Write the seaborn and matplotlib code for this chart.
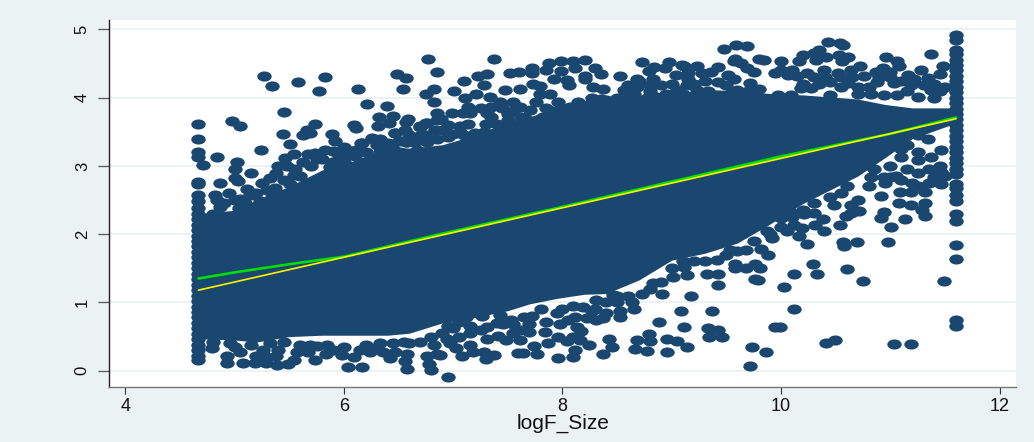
import matplotlib
matplotlib.use("Agg")
import matplotlib.pyplot as plt
import numpy as np
import pandas as pd
import seaborn as sns
from matplotlib.path import Path
from matplotlib.transforms import Affine2D

# points left of x=7, upper side
upper_left_x = [4.71,4.84,4.98,5.05,5.27,5.34,5.58,5.83,5.77,6.13,6.21,6.39,6.49,6.57,6.54,6.77,6.85,6.82,6.75,6.82,6.85,
    5.45,5.44,5.51,5.24,5.02,5.00,5.15,5.00,5.03,4.87,4.82,4.95,5.11,5.32,5.38,5.40,5.48,5.46,5.54,5.66,5.74,5.69,5.63,
    5.89,5.92,6.09,6.11,6.00,6.17,6.11,6.26,6.33,6.32,6.31,6.45,6.41,6.59,6.57,6.75,6.70,6.85,6.47,6.56,6.40,6.58,6.34,
    5.83,5.90,5.74,5.67,6.03,5.63,5.54,5.51,5.37,5.34,5.23,5.05,4.84,4.87,5.04,5.14,5.87,5.99,
    6.89,6.76,6.70,6.83,6.91,6.76,6.57,6.47,6.71,6.03,6.16,6.40,6.27,6.33,6.51,6.67]
upper_left_y = [3.01,3.13,3.66,3.58,4.31,4.17,4.23,4.30,4.10,4.13,3.91,3.88,4.34,4.29,4.13,4.56,4.38,4.13,4.06,3.93,3.78,
    3.79,3.46,3.32,3.24,3.06,2.96,2.89,2.83,2.78,2.75,2.57,2.60,2.66,2.82,2.90,3.00,3.00,3.12,3.18,3.53,3.62,3.48,3.45,
    3.47,3.36,3.60,3.56,3.27,3.34,3.24,3.41,3.40,3.71,3.58,3.73,3.63,3.69,3.64,3.63,3.58,3.67,3.48,3.52,3.32,3.35,3.21,
    3.23,3.22,3.19,3.17,3.16,3.06,2.87,2.74,2.67,2.55,2.48,2.51,2.50,2.40,2.39,2.57,2.99,2.94,
    3.68,3.63,3.57,3.53,3.53,3.35,3.35,3.48,3.45,3.23,3.33,3.33,3.40,3.21,3.21,3.23]

# points from 7 to 9.2, upper side
upper_mid_x = [7.37,7.52,7.60,7.72,7.88,7.99,8.10,8.21,7.72,7.85,7.99,8.11,8.30,8.35,8.21,8.21,7.92,8.04,8.06,8.73,8.84,
    8.97,9.09,8.94,8.79,8.53,8.68,9.04,8.83,8.90,8.68,8.56,8.28,8.37,9.05,7.61,7.73,7.79,7.47,7.28,7.31,7.23,7.10,7.01,
    7.21,7.11,7.34,7.79,7.89,7.96,7.43,7.55,7.14,6.99,7.09,7.15,7.50,7.31,7.61,7.76,8.14,8.27,8.07,8.59,8.77,8.86,9.01,
    9.14,9.15,8.40,7.06,7.06,7.14,7.40,7.66,7.82,7.72,7.28,7.21]
upper_mid_y = [4.56,4.36,4.38,4.44,4.51,4.54,4.53,4.55,4.36,4.40,4.39,4.44,4.43,4.34,4.32,4.28,4.27,4.26,4.18,4.52,4.45,
    4.52,4.48,4.43,4.39,4.32,4.28,4.33,4.28,4.18,4.15,4.11,4.15,4.12,4.11,4.13,4.20,4.17,4.11,4.18,4.34,4.32,4.25,4.10,
    4.06,3.99,4.01,4.05,4.05,3.93,3.94,3.94,3.87,3.77,3.77,3.78,3.76,3.77,3.87,3.94,3.93,3.99,3.86,3.98,3.99,4.01,3.92,
    4.18,4.36,3.96,3.58,3.50,3.62,3.62,3.70,3.72,3.53,3.50,3.33]

# points past 9.1, upper side
upper_right_x = [9.48,9.59,9.69,10.43,10.54,10.57,9.58,9.57,9.63,9.80,9.84,10.00,10.20,10.16,10.35,10.30,10.41,10.32,10.53,
    10.61,10.56,10.72,10.96,11.06,11.08,11.37,11.48,11.28,11.45,11.16,11.34,11.22,10.93,11.00,10.87,9.23,9.42,9.11,9.36,
    9.28,9.51,9.69,9.75,9.57,9.42,9.23,9.33,9.60,9.72,9.94,10.00,10.10,10.15,10.06,10.24,
    10.39,10.52,10.64,10.76,10.45,10.27,10.61,10.88,11.03,11.19,11.37,11.31,10.09,10.18,9.97,10.45,10.70,10.82,10.94,
    11.40,11.06,11.25]
upper_right_y = [4.71,4.77,4.76,4.81,4.80,4.77,4.57,4.53,4.50,4.57,4.55,4.53,4.62,4.53,4.70,4.65,4.60,4.55,4.62,
    4.60,4.53,4.46,4.59,4.53,4.46,4.64,4.47,4.40,4.35,4.33,4.29,4.28,4.44,4.37,4.38,4.46,4.45,4.47,4.38,
    4.36,4.33,4.43,4.38,4.28,4.23,4.11,4.09,4.11,4.21,4.36,4.40,4.40,4.31,4.33,4.36,
    4.40,4.36,4.40,4.31,4.23,4.14,4.21,4.23,4.21,4.18,4.11,4.18,4.04,4.14,4.04,4.04,4.06,4.06,4.04,
    3.99,4.04,4.01]

# crowded strip just over the solid part
upper_strip_x = [4.80,4.90,5.00,5.10,5.20,5.30,5.25,5.45,5.55,5.60,5.70,5.80,5.90,6.00,6.10,5.95,5.75,6.20,6.30,6.45,6.50,
    6.60,6.65,6.75,6.85,6.95,6.95,7.00,7.10,7.20,7.30,7.35,7.25,7.35,7.45,7.50,7.55,7.62,7.70,7.85,7.90,8.00,8.15,8.25,
    8.35,8.45,8.50,8.65,8.70,8.80,8.95,9.05,9.10,9.00,8.80,8.60,8.70,9.20,9.30,9.15,9.50,9.55,9.70,9.80,
    10.20,10.30,10.40,10.55,10.65,10.35,10.55,10.70,10.80,10.90,11.00,11.10,11.15,11.45,11.40,11.50]
upper_strip_y = [2.30,2.45,2.50,2.45,2.60,2.65,2.75,2.80,2.95,2.85,3.00,3.10,3.05,3.05,3.15,3.17,3.10,3.20,3.30,3.25,3.37,
    3.45,3.35,3.45,3.40,3.42,3.60,3.47,3.45,3.48,3.62,3.72,3.85,3.87,3.85,3.67,3.80,3.72,3.82,3.85,3.80,3.85,3.85,3.90,
    3.98,3.95,4.00,4.05,3.97,4.10,4.05,4.05,4.05,4.20,4.18,4.18,4.25,4.20,4.25,4.28,4.18,4.08,4.10,4.12,
    4.20,4.30,4.30,4.30,4.30,4.20,4.15,4.15,4.15,4.30,4.30,4.25,4.10,4.10,4.20,4.15]

# points left of x=7, lower side
lower_left_x = [4.79,4.96,4.93,4.93,5.08,5.19,5.29,5.39,5.49,5.54,5.38,5.05,5.26,5.32,5.57,5.67,5.74,5.84,5.69,5.98,6.09,
    6.04,6.17,6.24,6.15,6.36,6.42,6.47,6.58,6.56,6.58,6.78,6.80,6.76,6.85,6.60,6.82,6.33,6.88,6.95,6.97,6.94]
lower_left_y = [0.33,0.40,0.21,0.12,0.11,0.12,0.12,0.08,0.10,0.16,0.21,0.28,0.30,0.40,0.28,0.28,0.15,0.25,0.38,0.23,0.20,
    0.05,0.06,0.28,0.30,0.28,0.18,0.28,0.24,0.14,0.02,0.10,0.01,0.22,0.25,0.40,0.38,0.40,0.23,-0.09,0.40,0.47]

# points from 7 to 9.9, lower side
lower_mid_x = [7.08,7.30,7.37,7.18,7.28,7.15,7.31,7.03,7.00,7.15,7.31,7.41,7.48,7.59,7.64,7.77,7.96,8.10,7.74,7.87,7.96,
    8.04,8.11,8.24,8.16,7.61,7.69,7.61,7.55,7.84,8.10,8.13,8.17,8.43,8.45,8.37,8.68,8.79,8.80,8.66,8.77,8.96,8.96,9.05,
    9.14,9.11,8.88,9.33,9.42,9.34,9.46,9.08,9.37,9.73,9.86,9.72,9.94,8.53,8.53,8.31,8.37,8.22,8.27,8.19,7.98,8.11,7.95,
    7.72,7.69,7.53,7.46,7.43,7.26,7.12,6.97,8.64,8.65,8.40,8.91,9.18,8.73,9.01,9.14,9.32,9.42,9.42,9.76,9.79,10.03,
    9.58,9.58,9.68,9.76,9.81,9.41,9.82,9.88,9.53,9.68,9.11,8.83,8.46,8.31]
lower_mid_y = [0.22,0.17,0.23,0.28,0.28,0.38,0.47,0.33,0.62,0.55,0.64,0.51,0.45,0.26,0.26,0.25,0.18,0.20,0.36,0.40,0.49,
    0.43,0.31,0.38,0.45,0.45,0.57,0.60,0.55,0.57,0.50,0.64,0.58,0.47,0.35,0.25,0.45,0.54,0.44,0.32,0.29,0.27,0.47,0.44,
    0.35,0.64,0.71,0.62,0.60,0.50,0.50,0.87,0.88,0.35,0.27,0.07,0.64,0.79,0.87,0.74,0.77,0.77,0.87,0.94,0.69,0.78,0.84,
    0.80,0.69,0.75,0.69,0.82,0.80,0.79,0.89,1.00,0.91,1.00,1.13,1.10,1.13,1.38,1.40,1.42,1.41,1.25,1.35,1.33,1.23,
    1.57,1.50,1.50,1.56,1.51,1.62,1.79,1.69,1.77,1.77,1.52,1.28,1.11,1.04]

# points past 9.9, lower side
lower_right_x = [10.12,10.12,9.99,10.41,10.49,11.03,11.19,11.49,10.75,10.60,10.33,10.29,10.24,10.58,10.57,10.69,10.98,11.01,
    11.13,10.91,10.94,11.32,11.29,10.54,10.39,10.16,10.05,10.12,10.19,9.92,9.87,10.31,10.38,10.21,10.10,10.30,10.59,10.64,
    10.71,10.00,11.32,11.08,11.19,11.32,10.91,10.70,10.64,10.48,11.09,11.19,11.46,11.40,11.46,11.25,11.10,11.25,11.00,
    10.94,10.82,11.46,11.37,11.25,11.10,11.25,11.34]
lower_right_y = [1.41,0.91,0.64,0.40,0.45,0.39,0.39,1.31,1.31,1.49,1.41,1.56,1.85,1.82,1.89,1.89,1.89,2.11,
    2.22,2.24,2.32,2.26,2.35,2.13,2.05,1.97,2.04,2.13,2.09,1.95,2.04,2.13,2.22,2.30,2.31,2.31,2.27,2.31,
    2.34,2.23,2.62,2.45,2.43,2.45,2.56,2.50,2.43,2.43,2.62,2.62,2.74,2.84,2.91,2.89,2.79,2.70,2.84,
    2.84,2.84,3.23,3.13,3.08,3.13,3.45,3.40]

# crowded strip just under the solid part
lower_strip_x = [4.80,5.00,5.15,5.20,5.30,5.40,5.45,5.60,5.75,5.90,5.85,6.00,6.20,6.30,6.45,6.55,6.70,6.90,6.95,7.05,6.80,
    7.15,7.05,7.25,7.40,7.55,7.65,7.85,7.80,8.00,8.10,8.05,8.30,8.40,8.50,8.60,8.50,8.80,8.90,9.00,9.10,9.20,9.30,9.50,
    9.60,9.75,9.90,10.00,10.10,10.20,10.30,10.45,10.55,10.60,10.80,10.95,11.05,11.15,11.35,11.45,11.20,11.35,10.85,11.00,
    11.50,11.25,11.15,11.10]
lower_strip_y = [0.42,0.35,0.38,0.22,0.20,0.30,0.42,0.38,0.36,0.30,0.38,0.35,0.38,0.33,0.40,0.42,0.42,0.55,0.65,0.72,0.50,
    0.65,0.50,0.60,0.70,0.68,0.78,0.72,0.90,0.90,0.95,0.75,0.90,0.85,1.00,1.10,1.10,1.20,1.30,1.50,1.60,1.60,1.60,1.70,
    1.75,1.90,2.00,2.10,2.25,2.35,2.45,2.55,2.60,2.70,2.70,2.75,2.85,2.95,2.95,3.00,2.75,2.75,2.95,3.00,
    2.85,3.20,3.30,3.25]

# the two stacked columns at the censoring limits
left_col_x = 4.67
left_col_y = [3.61,3.39,3.20,3.13,2.77,2.73,2.58,2.48,2.38,2.30,2.22,2.14,2.06,1.98,1.90,1.82,1.74,1.66,1.58,1.50,1.42,
    1.34,1.26,1.18,1.10,1.02,0.94,0.86,0.78,0.70,0.62,0.54,0.47,0.38,0.30,0.22,0.15]
right_col_x = 11.6
right_col_y = [4.92,4.84,4.70,4.64,4.55,4.48,4.40,4.32,4.24,4.16,4.08,4.00,3.92,3.84,3.76,3.68,3.60,3.52,3.44,3.36,3.28,
    3.20,3.12,3.04,2.96,2.88,2.74,2.67,2.57,2.48,2.29,2.20,1.84,1.64,0.74,0.65]

# where the cloud is solid, outline of the overlapped markers
core_x = [4.67,5.0,5.2,5.5,5.8,6.1,6.4,6.6,6.9,7.2,7.5,7.7,7.95,8.2,8.4,8.7,9.0,9.3,9.6,9.9,10.2,10.7,10.95,11.2,11.55]
core_top = [2.30,2.35,2.50,2.70,2.94,3.08,3.28,3.26,3.31,3.45,3.65,3.72,3.85,3.92,3.97,4.02,4.05,4.12,4.10,4.06,4.04,3.98,3.90,3.85,3.85]
core_bot = [0.47,0.45,0.42,0.50,0.52,0.52,0.52,0.55,0.70,0.78,0.88,0.98,1.06,1.12,1.13,1.33,1.62,1.72,1.87,2.15,2.45,2.85,3.12,3.40,3.60]

# fitted lines
green_x = [4.67,5.0,5.5,6.0,6.88,8.0,9.0,10.0,11.0,11.6]
green_y = [1.35,1.44,1.56,1.67,2.00,2.40,2.77,3.14,3.47,3.71]
yellow_x = [4.67,11.6]
yellow_y = [1.18,3.69]

x_ticks = [4,6,8,10,12]
y_ticks = [0,1,2,3,4,5]

navy = "#1A476F"
bg = "#EAF2F3"

sns.set_style("white")
plt.rcParams["font.family"] = ["Liberation Sans", "DejaVu Sans"]

xs = upper_left_x + upper_mid_x + upper_right_x + upper_strip_x + lower_left_x + lower_mid_x + lower_right_x + lower_strip_x
ys = upper_left_y + upper_mid_y + upper_right_y + upper_strip_y + lower_left_y + lower_mid_y + lower_right_y + lower_strip_y
xs = xs + [left_col_x] * len(left_col_y) + [right_col_x] * len(right_col_y)
ys = ys + left_col_y + right_col_y
points = pd.DataFrame({"logF_Size": xs, "y": ys})

fig = plt.figure(figsize=(10.34, 4.42), dpi=100, facecolor=bg)
ax = fig.add_axes([109.3/1034, 55.3/442, 906.7/1034, 366.7/442], facecolor="white")

# the picture was stretched sideways, so the markers are ellipses
ellipse = Path.unit_circle().transformed(Affine2D().scale(1, 0.7))

ax.yaxis.grid(True, color=bg, lw=1.3)
ax.set_axisbelow(True)
ax.fill_between(core_x, core_bot, core_top, color=navy, lw=0, zorder=2)
sns.scatterplot(data=points, x="logF_Size", y="y", marker=ellipse, s=108, color=navy, linewidth=0, ax=ax, zorder=3)
sns.lineplot(x=green_x, y=green_y, color="#00DD00", lw=1.9, ax=ax, zorder=4)
sns.lineplot(x=yellow_x, y=yellow_y, color="#FFF200", lw=1.2, ax=ax, zorder=5)

ax.set_xlim(3.854, 12.149)
ax.set_ylim(-0.234, 5.137)
ax.set_xticks(x_ticks)
ax.set_yticks(y_ticks)
ax.set_xlabel("logF_Size", fontsize=15, labelpad=-1, color="#111111")
ax.set_ylabel("")
ax.tick_params(axis="x", length=5, width=0.8, color="#333333", labelsize=13, pad=3, labelcolor="#111111", bottom=True)
ax.tick_params(axis="y", length=8, width=0.9, color="#555555", labelsize=12, pad=6, labelcolor="#111111", left=True)
for t in ax.get_yticklabels():
    t.set_rotation(90)
    t.set_va("center")
for s in ["top", "right"]:
    ax.spines[s].set_visible(False)
ax.spines["left"].set_color("#222222")
ax.spines["left"].set_linewidth(1)
ax.spines["bottom"].set_color("#777777")
ax.spines["bottom"].set_linewidth(1)

fig.savefig("out.png", dpi=100, facecolor=bg)
